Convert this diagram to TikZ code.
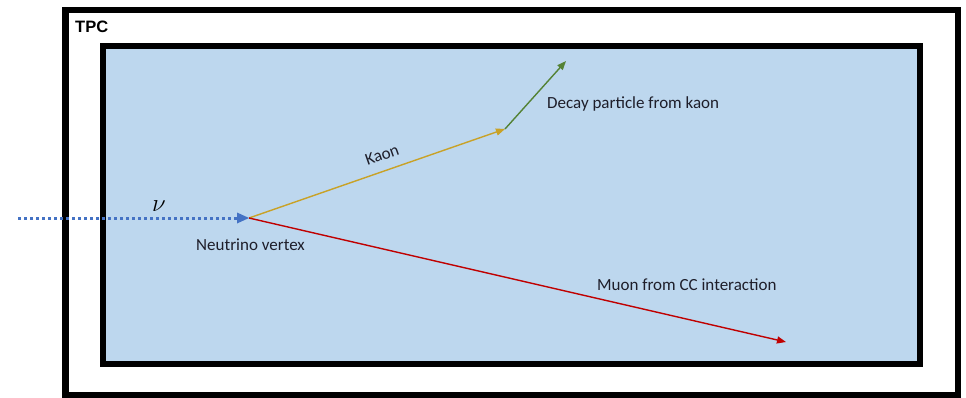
\documentclass[tikz,border=0pt]{standalone}
\usepackage{fontspec}
\setmainfont{Carlito}
\setsansfont{Liberation Sans}
\usetikzlibrary{arrows.meta}
\definecolor{tpcblue}{HTML}{BDD7EE}
\definecolor{nublue}{HTML}{4472C4}
\definecolor{kaonc}{HTML}{C9A227}
\definecolor{decayc}{HTML}{548235}
\definecolor{muonc}{HTML}{C00000}
\definecolor{txt}{HTML}{1E1E2A}
\begin{document}
\begin{tikzpicture}[x=1pt,y=-1pt,
  lbl/.style={font=\fontsize{17}{19}\selectfont, text=txt, inner sep=0pt},
  track/.style={line width=1.4pt},
  tip/.style={-{Triangle[length=9pt,width=7pt]}}]
\useasboundingbox (0,0) rectangle (966,397);
\draw[line width=6.5pt] (65.5,10) rectangle (958,395);
\draw[line width=6pt, fill=tpcblue] (103,46) rectangle (920,364);
\node[anchor=west, font=\sffamily\bfseries\fontsize{16.5}{18}\selectfont, inner sep=0pt] (tpc) at (75,27) {TPC};
\coordinate (nustart) at (18,218);
\coordinate (vtx) at (249,218);
\coordinate (kend) at (505,129);
\coordinate (dend) at (566,61);
\coordinate (mend) at (786,342);
\draw[nublue, line width=3pt, dash pattern=on 3pt off 3pt] (nustart) -- (238,218);
\fill[nublue] (vtx) -- (237,212.5) -- (237,223.5) -- cycle;
\node[font=\fontsize{30}{32}\selectfont, inner sep=0pt] (nu) at (159,206) {$\nu$};
\draw[track, kaonc, tip] (vtx) -- (kend);
\draw[track, decayc, tip] (kend) -- (dend);
\draw[track, muonc, tip] (vtx) -- (mend);
\node[lbl, rotate=19.5] (kl) at (382,155) {Kaon};
\node[lbl, anchor=west] (dl) at (547,104) {Decay particle from kaon};
\node[lbl, anchor=west] (ml) at (597,285) {Muon from CC interaction};
\node[lbl, anchor=west] (vl) at (196,245) {Neutrino vertex};
\end{tikzpicture}
\end{document}
